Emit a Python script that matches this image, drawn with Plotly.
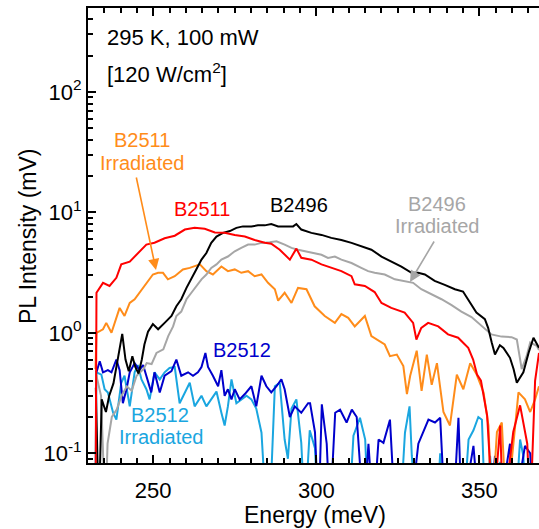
import plotly.graph_objects as go

# ---------------- data ----------------
BELOW = 0.03  # points that fall below the visible axis range

b2511_E = [232.3, 232.6, 234.6, 236.6, 238.7, 240.2, 242.8, 245.3, 247.9, 250.4, 253.5, 256.6, 259.7,
           262.7, 265.8, 268.9, 271.9, 275.0, 278.1, 281.1, 284.2, 286.2, 288.8, 291.9, 293.9, 295.4,
           298.5, 301.6, 304.6, 307.7, 310.8, 311.8, 314.9, 317.9, 320.0, 323.0, 327.1, 329.7, 330.7,
           332.2, 334.3, 337.4, 340.4, 343.5, 346.6, 348.1, 349.3, 350.5, 352.4, 354.2, 356.4, 357.3,
           360.4, 362.5, 364.7, 365.6, 367.1, 368.3]
b2511_I = [BELOW, 2.15, 2.6, 2.45, 2.86, 3.7, 3.9, 4.6, 5.4, 5.6, 6.1, 6.4, 7.2,
           7.45, 7.3, 6.8, 6.76, 6.5, 6.3, 5.9, 5.6, 5.5, 4.9, 4.05, 5.0, 4.2,
           4.05, 3.7, 3.46, 3.25, 2.95, 2.53, 2.45, 2.18, 1.77, 1.61, 1.47, 1.21, 0.88,
           1.1, 1.21, 1.13, 0.97, 0.91, 0.75, 0.6, 0.45, 0.4, 0.205, BELOW, 0.17, BELOW,
           0.15, 0.25, 0.12, BELOW, 0.4, 0.68]

b2511_irr_E = [232.3, 232.6, 234.6, 235.6, 237.2, 239.7, 241.2, 242.8, 244.3, 245.8, 247.9, 249.9,
               251.5, 253.0, 254.5, 256.6, 259.1, 261.2, 264.3, 266.3, 268.3, 270.9, 272.9, 275.0,
               277.0, 279.1, 281.1, 283.2, 285.2, 287.3, 288.3, 290.3, 292.4, 294.4, 297.0, 299.5,
               302.6, 305.7, 307.7, 309.8, 311.8, 314.9, 316.9, 319.0, 321.0, 322.6, 324.7, 326.7,
               327.8, 328.8, 330.8, 332.3, 333.9, 335.4, 337.0, 339.0, 341.0, 343.1, 345.1, 347.2,
               349.2, 351.3, 352.8, 353.8, 355.4, 356.9, 358.3, 360.0, 362.0, 364.0, 365.6, 367.1, 368.3]
b2511_irr_I = [0.5, 1.0, 1.07, 1.21, 1.0, 1.61, 1.38, 1.77, 1.9, 2.15, 2.6, 3.05,
               3.15, 3.15, 2.78, 2.95, 3.36, 3.46, 3.7, 3.25, 3.05, 3.55, 3.25, 3.36,
               3.15, 3.25, 2.95, 3.05, 2.6, 2.3, 1.85, 2.15, 1.77, 2.36, 2.3, 1.66,
               1.38, 1.21, 1.43, 1.33, 1.13, 1.38, 0.94, 0.86, 0.8, 0.64, 0.66, 0.53,
               0.31, 0.44, 0.71, 0.33, 0.66, 0.37, 0.56, 0.22, 0.17, 0.45, 0.34, 0.56,
               0.45, 0.32, 0.17, BELOW, 0.15, 0.18, BELOW, 0.09, 0.32, 0.28, 0.22, 0.28, 0.36]

b2496_E = [232.4, 233.3, 234.2, 235.5, 236.5, 237.8, 239.2, 240.5, 241.5, 242.5, 243.6, 244.5,
           245.5, 246.5, 247.3, 248.4, 249.9, 251.5, 253.5, 255.6, 257.1, 258.6, 260.2, 261.7,
           263.2, 264.8, 266.3, 267.8, 269.4, 271.4, 273.5, 275.5, 277.5, 280.1, 282.1, 284.2,
           286.2, 288.3, 290.8, 292.9, 293.9, 295.4, 298.5, 301.6, 304.6, 307.7, 310.8, 313.8,
           316.9, 320.0, 323.0, 326.1, 329.2, 331.2, 333.3, 336.3, 339.4, 342.5, 345.0, 347.1,
           349.1, 351.7, 352.7, 353.8, 354.8, 356.3, 357.4, 359.4, 360.5, 361.5, 363.5, 365.1,
           366.6, 368.3]
b2496_I = [0.35, BELOW, 0.28, 0.22, 0.3, 0.38, 0.62, 0.98, 0.6, 0.48, 0.64, 0.52,
           0.46, 0.6, 0.8, 1.02, 1.18, 1.07, 1.21, 1.38, 1.66, 1.9, 2.36, 2.86,
           3.36, 4.05, 4.6, 5.58, 6.3, 6.76, 7.0, 7.44, 7.65, 7.65, 7.8, 7.8,
           8.0, 7.65, 7.6, 7.65, 8.0, 7.2, 6.76, 6.5, 6.14, 5.9, 5.58, 5.25,
           4.9, 4.3, 3.9, 3.55, 3.15, 3.15, 3.05, 2.7, 2.5, 2.3, 2.2, 1.77,
           1.47, 1.3, 1.1, 0.83, 0.66, 0.79, 0.75, 0.62, 0.5, 0.385, 0.47, 0.68,
           0.91, 0.75]

b2496_irr_E = [232.5, 234.0, 235.3, 236.0, 237.3, 238.8, 240.3, 241.9, 243.4, 244.9, 247.0, 248.0,
               249.5, 251.0, 253.1, 254.6, 256.1, 257.1, 258.6, 260.2, 261.7, 263.2, 264.8, 266.3,
               267.8, 269.4, 270.9, 272.9, 275.0, 277.0, 279.1, 281.1, 283.2, 285.7, 287.8, 290.3,
               292.4, 294.4, 296.5, 298.5, 301.6, 303.6, 305.7, 307.7, 310.8, 313.8, 315.9, 317.9,
               321.0, 324.1, 327.1, 329.7, 332.2, 335.3, 338.4, 341.5, 344.5, 347.6, 350.7, 353.7,
               356.8, 359.9, 361.5, 362.5, 363.0, 364.5, 365.6, 367.6, 368.3]
b2496_irr_I = [0.45, 0.3, BELOW, 0.12, 0.2, 0.23, 0.3, 0.36, 0.33, 0.44, 0.5, 0.56,
               0.55, 0.68, 0.73, 0.94, 1.13, 1.38, 1.5, 1.9, 2.15, 2.45, 2.78, 3.05,
               3.46, 3.7, 4.05, 4.3, 4.75, 5.07, 5.4, 5.4, 5.58, 5.65, 5.75, 5.4,
               5.07, 4.9, 4.75, 4.65, 4.45, 4.19, 4.3, 4.05, 3.8, 3.46, 3.25, 3.15,
               3.05, 2.78, 2.7, 2.6, 2.3, 2.1, 1.9, 1.7, 1.5, 1.35, 1.15, 0.97,
               0.93, 0.92, 0.88, 0.6, 0.5, 0.64, 0.83, 0.78, 0.72]

b2512_E = [232.6, 233.6, 234.6, 236.1, 237.2, 238.7, 239.7, 240.7, 241.8, 242.8, 244.3, 245.8,
           246.9, 248.4, 249.4, 250.4, 252.0, 253.5, 255.6, 257.1, 258.6, 260.7, 262.2, 263.7,
           264.8, 266.0, 266.8, 268.3, 269.9, 270.9, 271.9, 272.9, 274.0, 275.0, 276.5, 278.1,
           280.1, 281.6, 283.2, 284.7, 286.2, 287.8, 289.3, 290.3, 291.9, 293.4, 295.4, 297.5,
           298.1, 299.6, 300.7, 301.7, 303.2, 304.2, 305.8, 307.3, 309.3, 310.9, 312.4, 314.5,
           316.0, 317.5, 319.1, 320.6, 322.6, 324.2, 328.8, 331.3, 334.4, 336.4, 338.0, 339.5,
           342.0, 343.6, 344.6, 348.2, 350.0, 353.3, 354.8, 356.0, 359.4, 360.5, 364.0, 365.6, 366.6]
b2512_I = [0.47, 0.58, 0.47, 0.49, 0.47, 0.6, 0.49, 0.26, 0.34, 0.47, 0.56, 0.49,
           0.54, 0.385, 0.32, 0.47, 0.32, 0.44, 0.48, 0.6, 0.44, 0.47, 0.44, 0.47,
           0.52, 0.68, 0.52, 0.44, 0.36, 0.49, 0.3, 0.34, 0.28, 0.34, 0.28, 0.31,
           0.36, 0.245, 0.44, 0.36, 0.32, 0.36, 0.41, 0.34, 0.2, 0.245, 0.217, 0.26,
           0.26, 0.15, BELOW, 0.255, 0.12, BELOW, 0.217, 0.23, 0.18, 0.23, 0.2, BELOW,
           0.12, BELOW, 0.13, 0.122, 0.19, BELOW, BELOW, 0.12, 0.19, 0.18, 0.197, BELOW,
           BELOW, 0.197, BELOW, 0.115, BELOW, BELOW, 0.095, BELOW, 0.12, BELOW, 0.115, 0.1, BELOW]

b2512_irr_E = [232.2, 232.6, 234.1, 235.1, 236.1, 237.7, 238.7, 240.2, 241.2, 242.8, 244.3, 245.3,
               246.4, 247.9, 248.9, 250.4, 252.0, 253.5, 255.0, 256.6, 258.1, 259.7, 261.2, 262.7,
               264.8, 266.3, 267.8, 269.4, 270.9, 271.9, 272.9, 274.0, 275.5, 277.0, 278.6, 280.1,
               281.6, 283.2, 284.7, 285.7, 287.3, 288.8, 290.3, 291.3, 292.4, 293.9, 295.4, 296.5,
               298.0, 299.6, 300.7, 310.0, 311.4, 313.4, 315.0, 316.0, 325.7, 327.2, 328.6, 329.3,
               330.8, 336.9, 338.0, 339.0, 345.1, 346.7, 348.2, 349.7, 350.8, 351.8, 353.3, 354.8,
               356.4, 357.9, 361.0, 362.5, 363.5, 364.5]
b2512_irr_I = [BELOW, 0.47, 0.45, 0.34, 0.32, 0.217, 0.19, 0.385, 0.44, 0.245, 0.47, 0.54,
               0.41, 0.34, 0.28, 0.47, 0.41, 0.47, 0.51, 0.52, 0.26, 0.32, 0.385, 0.245,
               0.3, 0.245, 0.28, 0.325, 0.217, 0.17, 0.245, 0.41, 0.26, 0.28, 0.3, 0.28,
               0.235, 0.148, BELOW, BELOW, 0.36, 0.385, 0.13, 0.09, 0.235, 0.28, 0.122, BELOW,
               0.155, 0.11, BELOW, BELOW, 0.14, 0.197, 0.13, BELOW, BELOW, 0.148, 0.245, 0.095,
               BELOW, BELOW, 0.1, BELOW, BELOW, 0.13, 0.155, 0.2, 0.19, BELOW, 0.095, BELOW,
               0.085, BELOW, BELOW, 0.13, 0.095, BELOW]

y_tickvals = [0.1, 1, 10, 100]
y_ticktext = ["10<sup>-1</sup>", "10<sup>0</sup>", "10<sup>1</sup>", "10<sup>2</sup>"]
x_tickvals = [250, 300, 350]

# ---------------- styling ----------------
W, H = 539, 529
ML, MR, MT, MB = 88, 0, 8, 66
PW, PH = W - ML - MR, H - MT - MB
FONT = "Liberation Sans, Arial, sans-serif"

RED, ORANGE, BLACK, GRAY, BLUE, LBLUE = "#FF0000", "#FF8C1A", "#000000", "#A6A6A6", "#0000CC", "#1AA6E0"

def px(x):
    return (x - ML) / PW

def py(y):
    return (H - MB - y) / PH

fig = go.Figure()
series = [
    (b2512_irr_E, b2512_irr_I, LBLUE),
    (b2512_E, b2512_I, BLUE),
    (b2511_irr_E, b2511_irr_I, ORANGE),
    (b2496_irr_E, b2496_irr_I, GRAY),
    (b2496_E, b2496_I, BLACK),
    (b2511_E, b2511_I, RED),
]
for e, i, c in series:
    fig.add_trace(go.Scatter(x=e, y=i, mode="lines", line=dict(color=c, width=2),
                             showlegend=False, hoverinfo="skip"))

annotations = []

def label(text, x, y, color, size=20, anchor="center"):
    annotations.append(dict(text=text, x=px(x), y=py(y), xref="paper", yref="paper",
                            showarrow=False, xanchor=anchor, yanchor="middle",
                            font=dict(family=FONT, size=size, color=color)))

label("295 K, 100 mW", 105, 37, BLACK, 22, "left")
label("[120 W/cm<sup>2</sup>]", 105, 73, BLACK, 22, "left")
label("B2511", 142, 140, ORANGE)
label("Irradiated", 142, 163, ORANGE)
label("B2511", 202, 209, RED)
label("B2496", 299, 205, BLACK)
label("B2496", 437, 204, GRAY)
label("Irradiated", 437, 226, GRAY)
label("B2512", 242, 350, BLUE)
label("B2512", 160, 415, LBLUE)
label("Irradiated", 161, 437, LBLUE)

def arrow(hx, hy, tx, ty, color):
    annotations.append(dict(text="", x=px(hx), y=py(hy), xref="paper", yref="paper",
                            ax=tx - hx, ay=ty - hy, axref="pixel", ayref="pixel",
                            showarrow=True, arrowhead=2, arrowsize=1.4, arrowwidth=1.6,
                            arrowcolor=color, standoff=0, startstandoff=0))

arrow(156, 270, 136, 176, ORANGE)
arrow(410, 282, 435, 240, GRAY)

# axis titles
annotations.append(dict(text="Energy (meV)", x=px(315), y=py(515), xref="paper", yref="paper",
                        showarrow=False, xanchor="center", yanchor="middle",
                        font=dict(family=FONT, size=23, color=BLACK)))
annotations.append(dict(text="PL Intensity (mV)", x=px(28), y=py(236), xref="paper", yref="paper",
                        showarrow=False, xanchor="center", yanchor="middle", textangle=-90,
                        font=dict(family=FONT, size=23, color=BLACK)))

fig.update_layout(
    width=W, height=H,
    margin=dict(l=ML, r=MR, t=MT, b=MB, pad=0),
    paper_bgcolor="white", plot_bgcolor="white",
    font=dict(family=FONT, color=BLACK),
    annotations=annotations,
    xaxis=dict(range=[230, 368.3], showgrid=False, zeroline=False,
               showline=True, linewidth=2, linecolor=BLACK, mirror="ticks",
               ticks="inside", ticklen=8, tickwidth=2, tickcolor=BLACK,
               tickmode="array", tickvals=x_tickvals, ticklabelstandoff=7,
               tickfont=dict(family=FONT, size=22, color=BLACK),
               minor=dict(dtick=5, tick0=0, ticks="inside", ticklen=5, tickwidth=1.5,
                          tickcolor=BLACK, showgrid=False)),
    yaxis=dict(type="log", range=[-1.081, 2.697], showgrid=False, zeroline=False,
               showline=True, linewidth=2, linecolor=BLACK, mirror=False,
               ticks="inside", ticklen=8, tickwidth=2, tickcolor=BLACK,
               tickmode="array", tickvals=y_tickvals, ticktext=y_ticktext,
               tickfont=dict(family=FONT, size=22, color=BLACK),
               minor=dict(dtick="D1", ticks="inside", ticklen=5, tickwidth=1.5,
                          tickcolor=BLACK, showgrid=False)),
)

fig.write_html("out.html")
